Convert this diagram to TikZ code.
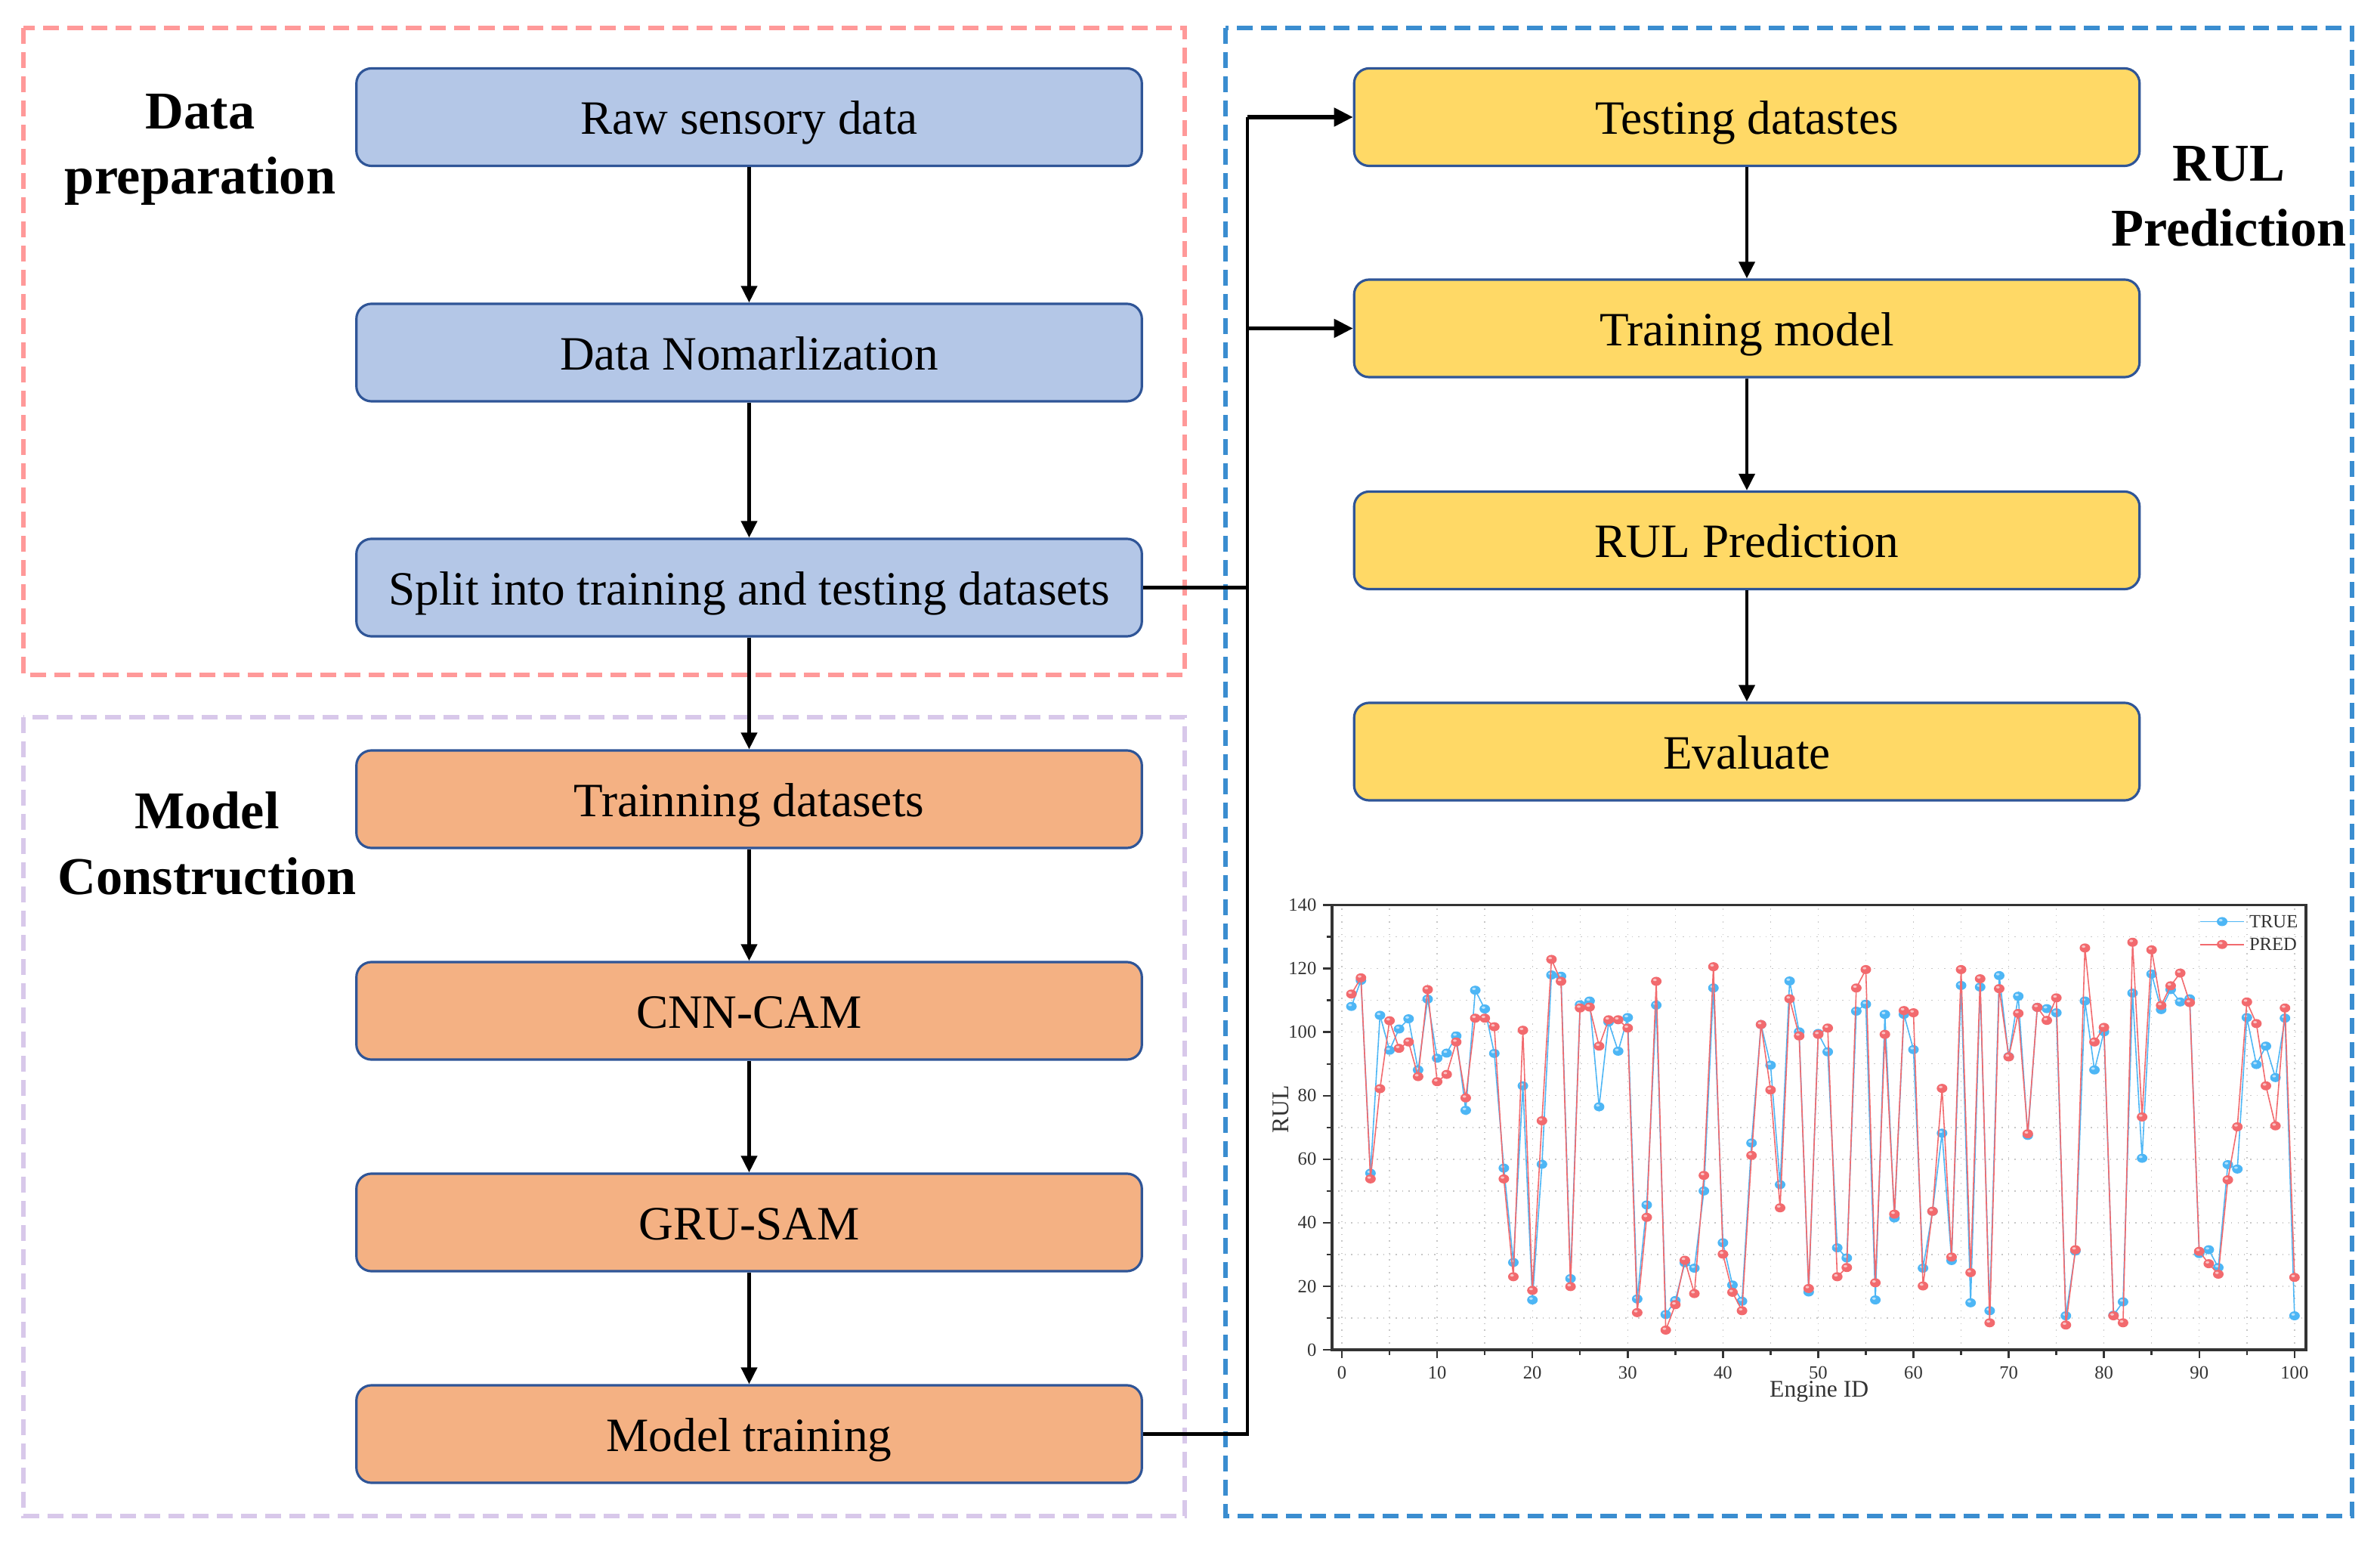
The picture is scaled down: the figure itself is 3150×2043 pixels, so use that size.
\documentclass[tikz,border=0pt]{standalone}
\usepackage{fontspec}
\setmainfont{Liberation Serif}
\usetikzlibrary{arrows.meta,calc}
\definecolor{bfill}{HTML}{B4C7E7}
\definecolor{ofill}{HTML}{F4B183}
\definecolor{yfill}{HTML}{FFD966}
\definecolor{bdr}{HTML}{2F5597}
\definecolor{redd}{HTML}{FF9999}
\definecolor{purd}{HTML}{D8C8EA}
\definecolor{blud}{HTML}{3A8DD0}
\definecolor{tcol}{HTML}{4DB6F5}
\definecolor{pcol}{HTML}{F26A6E}
\definecolor{axc}{HTML}{333333}
\def\truelist{108.1,116.3,55.6,105.3,94.3,101.0,104.2,88.1,110.4,91.8,93.4,98.8,75.4,113.2,107.3,93.3,57.2,27.5,83.1,15.7,58.4,118.0,117.6,22.4,108.6,109.8,76.5,103.2,94.0,104.6,16.0,45.6,108.5,11.1,15.5,27.4,25.7,50.0,113.9,33.7,20.4,15.3,65.1,102.4,89.6,52.0,116.1,100.1,18.2,99.6,93.8,32.1,28.9,106.6,108.8,15.7,105.6,41.5,105.6,94.5,25.7,43.6,68.2,28.1,114.7,14.8,114.2,12.3,117.8,92.3,111.3,67.5,107.8,107.4,106.1,10.7,31.1,109.8,88.1,100.1,10.9,15.1,112.3,60.3,118.3,107.1,113.4,109.5,110.5,30.3,31.5,25.9,58.3,56.9,104.6,89.8,95.6,85.7,104.4,10.7}
\def\truerest{116.3,55.6,105.3,94.3,101.0,104.2,88.1,110.4,91.8,93.4,98.8,75.4,113.2,107.3,93.3,57.2,27.5,83.1,15.7,58.4,118.0,117.6,22.4,108.6,109.8,76.5,103.2,94.0,104.6,16.0,45.6,108.5,11.1,15.5,27.4,25.7,50.0,113.9,33.7,20.4,15.3,65.1,102.4,89.6,52.0,116.1,100.1,18.2,99.6,93.8,32.1,28.9,106.6,108.8,15.7,105.6,41.5,105.6,94.5,25.7,43.6,68.2,28.1,114.7,14.8,114.2,12.3,117.8,92.3,111.3,67.5,107.8,107.4,106.1,10.7,31.1,109.8,88.1,100.1,10.9,15.1,112.3,60.3,118.3,107.1,113.4,109.5,110.5,30.3,31.5,25.9,58.3,56.9,104.6,89.8,95.6,85.7,104.4,10.7}
\def\predlist{112.0,117.1,53.8,82.2,103.6,94.9,96.9,86.0,113.4,84.4,86.7,96.9,79.3,104.4,104.4,101.7,53.8,23.0,100.6,18.7,72.1,122.9,116.0,19.9,107.6,107.9,95.6,103.9,103.9,101.3,11.7,41.7,116.0,6.2,14.2,28.2,17.7,54.9,120.6,30.1,18.1,12.3,61.2,102.4,81.8,44.7,110.5,98.8,19.3,99.3,101.3,23.0,25.9,113.9,119.7,21.1,99.3,42.7,106.8,106.1,20.1,43.6,82.3,29.2,119.7,24.3,116.8,8.5,113.7,92.2,105.9,68.0,107.8,103.7,110.8,7.8,31.5,126.5,96.9,101.5,10.7,8.5,128.3,73.3,125.9,108.4,114.6,118.6,109.3,31.0,27.1,23.8,53.5,70.2,109.5,102.7,83.1,70.5,107.6,22.8}
\def\predrest{117.1,53.8,82.2,103.6,94.9,96.9,86.0,113.4,84.4,86.7,96.9,79.3,104.4,104.4,101.7,53.8,23.0,100.6,18.7,72.1,122.9,116.0,19.9,107.6,107.9,95.6,103.9,103.9,101.3,11.7,41.7,116.0,6.2,14.2,28.2,17.7,54.9,120.6,30.1,18.1,12.3,61.2,102.4,81.8,44.7,110.5,98.8,19.3,99.3,101.3,23.0,25.9,113.9,119.7,21.1,99.3,42.7,106.8,106.1,20.1,43.6,82.3,29.2,119.7,24.3,116.8,8.5,113.7,92.2,105.9,68.0,107.8,103.7,110.8,7.8,31.5,126.5,96.9,101.5,10.7,8.5,128.3,73.3,125.9,108.4,114.6,118.6,109.3,31.0,27.1,23.8,53.5,70.2,109.5,102.7,83.1,70.5,107.6,22.8}
\tikzset{
  flowbox/.style={draw=bdr, line width=0.9pt, rounded corners=0.2cm, minimum width=10.39cm, minimum height=1.29cm, inner sep=0pt, text height=13pt, text depth=0pt, font=\fontsize{18}{21}\selectfont},
  bluebox/.style={flowbox, fill=bfill},
  orangebox/.style={flowbox, fill=ofill},
  yellowbox/.style={flowbox, fill=yfill},
  region/.style={line width=1.7pt, dash pattern=on 0.21cm off 0.11cm},
  title/.style={font=\fontsize{20}{24.5}\selectfont\bfseries, align=center},
  conn/.style={line width=1.15pt, black},
  arr/.style={conn, -{Triangle[length=0.22cm,width=0.21cm]}},
  sidearr/.style={line width=1.5pt, black, -{Triangle[length=0.25cm,width=0.24cm]}},
  gridl/.style={draw=black!22, line width=0.4pt, dotted},
  axisl/.style={draw=axc, line width=0.7pt},
  ticklab/.style={font=\fontsize{7}{8}\selectfont, text=axc, inner sep=0pt},
  axlab/.style={font=\fontsize{9}{10}\selectfont, text=axc, inner sep=0pt},
  tline/.style={draw=tcol, line width=0.45pt},
  pline/.style={draw=pcol, line width=0.45pt},
}
\begin{document}
\begin{tikzpicture}[x=0.01cm, y=-0.01cm]
\useasboundingbox (0,0) rectangle (3150,2043);
% regions
\draw[region, draw=redd] (31,37) rectangle (1568,893);
\draw[region, draw=purd] (31,949) rectangle (1568,2006);
\draw[region, draw=blud] (1622,37) rectangle (3113,2006);
% titles
\node[title] (tdata) at (265,198) {Data\\preparation};
\node[title] (tmodel) at (274,1116) {Model\\Construction};
\node[title] (trul) at (2950,260) {RUL\\Prediction};
% left boxes
\node[bluebox] (raw) at (991.5,155) {Raw sensory data};
\node[bluebox] (norm) at (991.5,466.5) {Data Nomarlization};
\node[bluebox] (split) at (991.5,777.5) {Split into training and testing datasets};
\node[orangebox] (trds) at (991.5,1057.5) {Trainning datasets};
\node[orangebox] (cnn) at (991.5,1337.5) {CNN-CAM};
\node[orangebox] (gru) at (991.5,1617.5) {GRU-SAM};
\node[orangebox] (mtrain) at (991.5,1897.5) {Model training};
% right boxes
\node[yellowbox] (test) at (2312,155) {Testing datastes};
\node[yellowbox] (trmodel) at (2312,434.5) {Training model};
\node[yellowbox] (rulp) at (2312,715) {RUL Prediction};
\node[yellowbox] (eval) at (2312,994.5) {Evaluate};
% connectors
\draw[arr] (raw) -- (norm);
\draw[arr] (norm) -- (split);
\draw[arr] (split) -- (trds);
\draw[arr] (trds) -- (cnn);
\draw[arr] (cnn) -- (gru);
\draw[arr] (gru) -- (mtrain);
\draw[arr] (test) -- (trmodel);
\draw[arr] (trmodel) -- (rulp);
\draw[arr] (rulp) -- (eval);
\coordinate (bus) at (1651,0);
\draw[conn, line width=1.3pt] (split.east) -- (split.east -| bus);
\draw[conn, line width=1.3pt] (mtrain.east) -- (mtrain.east -| bus) -- (test.west -| bus);
\draw[sidearr] (test.west -| bus) -- (test.west);
\draw[sidearr] (trmodel.west -| bus) -- (trmodel.west);
% chart
\begin{scope}[shift={(17.75cm,-17.85cm)}, x=0.126cm, y=0.042cm]
  \fill[white] (-1.03,0) rectangle (101.2,140);
  \foreach \gx in {0,5,...,100} {\draw[gridl] (\gx,0) -- (\gx,140);}
  \foreach \gy in {10,20,...,130} {\draw[gridl] (-1.03,\gy) -- (101.2,\gy);}
  \foreach \t in {0,10,...,100} {
    \draw[axisl] (\t,0) -- ++(0pt,-0.11cm);
    \node[ticklab] (xl\t) at ($(\t,0)+(0pt,-0.3cm)$) {\t};
  }
  \foreach \t in {5,15,...,95} {\draw[axisl] (\t,0) -- ++(0pt,-0.065cm);}
  \foreach \t in {0,20,...,140} {
    \draw[axisl] (-1.03,\t) -- ++(-0.12cm,0pt);
    \node[ticklab, anchor=east] (yl\t) at ($(-1.03,\t)+(-0.2cm,0pt)$) {\t};
  }
  \foreach \t in {10,30,...,130} {\draw[axisl] (-1.03,\t) -- ++(-0.07cm,0pt);}
  \draw[axisl, line width=0.9pt] (-1.03,0) rectangle (101.2,140);
  \node[axlab] (xtitle) at (50.1,-13.1) {Engine ID};
  \node[axlab, rotate=90] (ytitle) at (-6.43,75.7) {RUL};
  % TRUE series
  \draw[tline] (1,108.1) \foreach \v [count=\i from 2] in \truerest {-- (\i,\v)};
  \foreach \v [count=\i] in \truelist {
    \fill[tcol] (\i,\v) ellipse [x radius=0.07cm, y radius=0.06cm];
    \fill[white, opacity=0.6] ($(\i,\v)+(-0.018cm,0.018cm)$) ellipse [x radius=0.024cm, y radius=0.016cm];
  }
  % PRED series
  \draw[pline] (1,112.0) \foreach \v [count=\i from 2] in \predrest {-- (\i,\v)};
  \foreach \v [count=\i] in \predlist {
    \fill[pcol] (\i,\v) ellipse [x radius=0.07cm, y radius=0.06cm];
    \fill[white, opacity=0.6] ($(\i,\v)+(-0.018cm,0.018cm)$) ellipse [x radius=0.024cm, y radius=0.016cm];
  }
  % legend
  \coordinate (lgt1) at (90.1,134.8);
  \coordinate (lgt2) at (94.7,134.8);
  \draw[tline] (lgt1) -- (lgt2);
  \fill[tcol] (92.4,134.8) ellipse [x radius=0.07cm, y radius=0.06cm];
  \fill[white, opacity=0.6] ($(92.4,134.8)+(-0.018cm,0.018cm)$) ellipse [x radius=0.024cm, y radius=0.016cm];
  \node[ticklab, anchor=west] (legT) at (95.2,134.8) {TRUE};
  \coordinate (lgp1) at (90.1,127.6);
  \coordinate (lgp2) at (94.7,127.6);
  \draw[pline] (lgp1) -- (lgp2);
  \fill[pcol] (92.4,127.6) ellipse [x radius=0.07cm, y radius=0.06cm];
  \fill[white, opacity=0.6] ($(92.4,127.6)+(-0.018cm,0.018cm)$) ellipse [x radius=0.024cm, y radius=0.016cm];
  \node[ticklab, anchor=west] (legP) at (95.2,127.6) {PRED};
\end{scope}
\end{tikzpicture}
\end{document}
